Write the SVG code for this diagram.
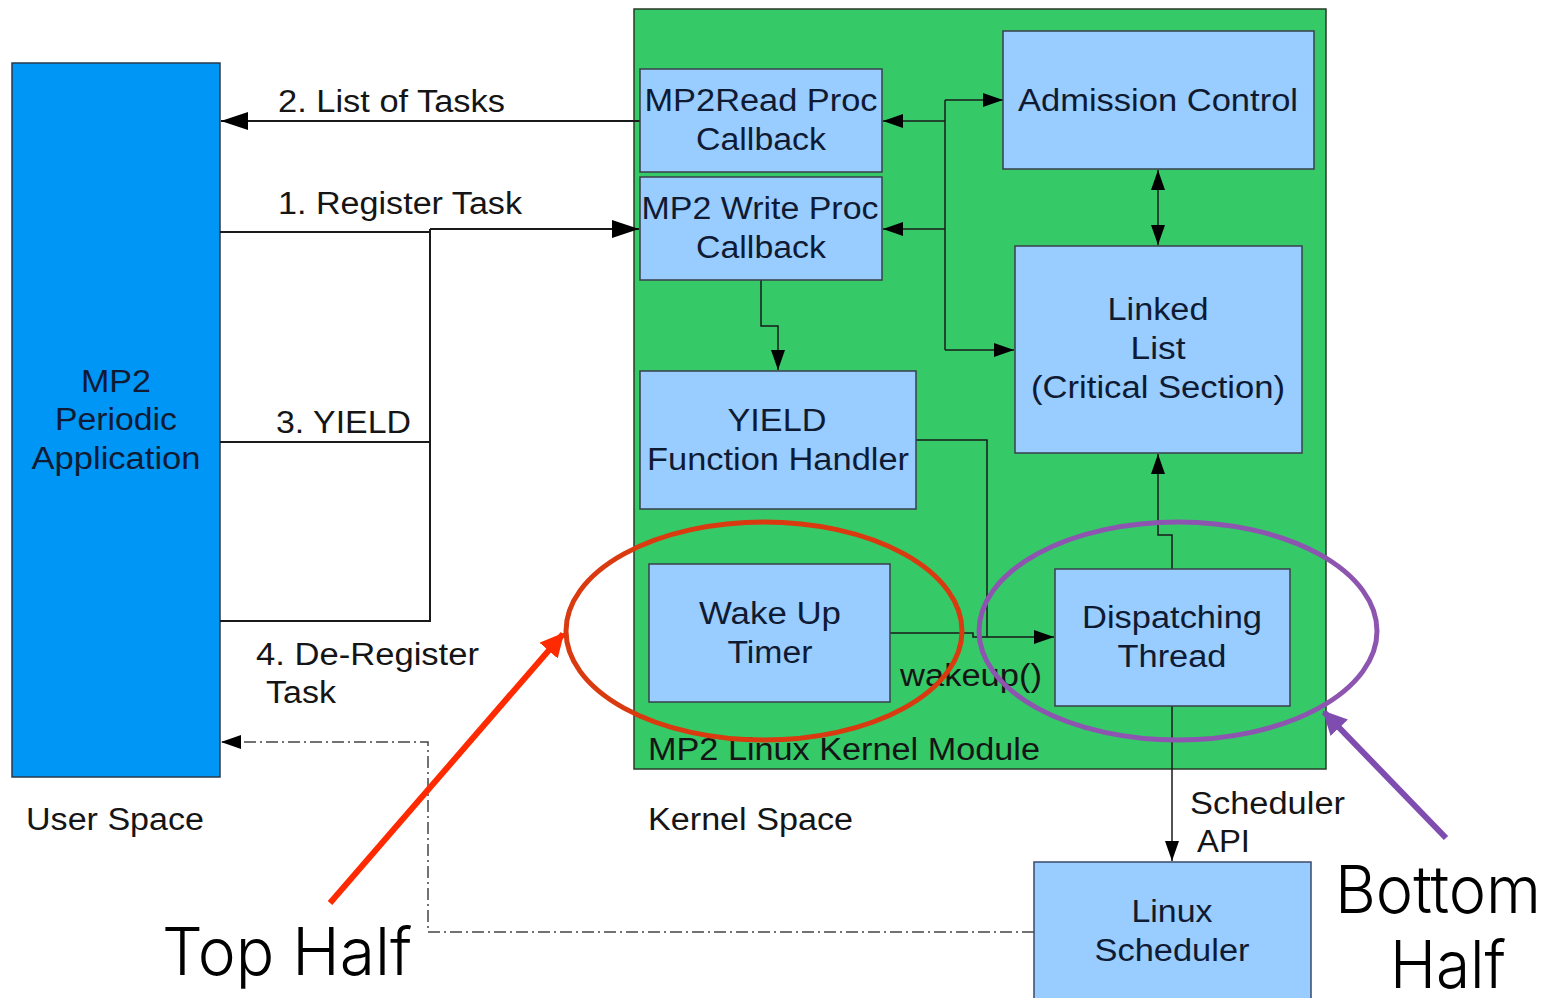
<svg xmlns="http://www.w3.org/2000/svg" width="1555" height="998" viewBox="0 0 1555 998">
<defs>
<style>
.box{fill:#99ccff;stroke:#3a3f4a;stroke-width:1.5}
.t{font-family:"Liberation Sans",Arial,sans-serif;font-size:31px;fill:#0f1a33;text-anchor:middle}
.lbl{font-family:"Liberation Sans",Arial,sans-serif;font-size:31px;fill:#151515}
.big{font-family:"Inter","Lato","Liberation Sans",sans-serif;font-weight:300;font-size:66px;fill:#000}
.ln{fill:none;stroke:#1a1a1a;stroke-width:2}
.thin{fill:none;stroke:#1a1a1a;stroke-width:1.5}
</style>
<marker id="ah" markerUnits="userSpaceOnUse" markerWidth="30" markerHeight="20" refX="27" refY="9" orient="auto-start-reverse" viewBox="0 0 30 20">
<path d="M0,0 L27,9 L0,18 z" fill="#000"/>
</marker>
<marker id="ahs" markerUnits="userSpaceOnUse" markerWidth="22" markerHeight="16" refX="20" refY="7" orient="auto-start-reverse" viewBox="0 0 22 16">
<path d="M0,0 L20,7 L0,14 z" fill="#000"/>
</marker>
<marker id="ahRed" markerUnits="userSpaceOnUse" markerWidth="30" markerHeight="30" refX="22" refY="12" orient="auto" viewBox="0 0 30 30">
<path d="M0,0 L24,12 L0,24 z" fill="#ff2a00"/>
</marker>
<marker id="ahPur" markerUnits="userSpaceOnUse" markerWidth="30" markerHeight="30" refX="22" refY="12" orient="auto" viewBox="0 0 30 30">
<path d="M0,0 L24,12 L0,24 z" fill="#7f4cb0"/>
</marker>
</defs>
<rect x="0" y="0" width="1555" height="998" fill="#ffffff"/>

<g id="kernel-module">
<rect x="634" y="9" width="692" height="760" fill="#36c968" stroke="#2a3a2a" stroke-width="1.5"/>
<text class="lbl" x="648" y="760" textLength="392" lengthAdjust="spacingAndGlyphs">MP2 Linux Kernel Module</text>
</g>

<g id="app">
<rect x="12" y="63" width="208" height="714" fill="#0096f5" stroke="#2a3a4a" stroke-width="1.5"/>
<text class="t" x="116" y="392" textLength="70" lengthAdjust="spacingAndGlyphs">MP2</text>
<text class="t" x="116" y="430" textLength="122" lengthAdjust="spacingAndGlyphs">Periodic</text>
<text class="t" x="116" y="469" textLength="169" lengthAdjust="spacingAndGlyphs">Application</text>
</g>

<g id="connectors">
<path class="ln" d="M640,121 H221" marker-end="url(#ah)"/>
<path class="ln" d="M220,232 H430"/>
<path class="ln" d="M430,229 H639" marker-end="url(#ah)"/>
<path class="ln" d="M430,229 V621 H220"/>
<path class="ln" d="M220,442 H430"/>
<path class="thin" d="M945,100 V350"/>
<path class="thin" d="M945,100 H1003" marker-end="url(#ahs)"/>
<path class="thin" d="M945,121 H883" marker-end="url(#ahs)"/>
<path class="thin" d="M945,229 H883" marker-end="url(#ahs)"/>
<path class="thin" d="M945,350 H1014" marker-end="url(#ahs)"/>
<path class="thin" d="M1158,170 V245" marker-start="url(#ahs)" marker-end="url(#ahs)"/>
<path class="thin" d="M761,280 V326 H778 V370" marker-end="url(#ahs)"/>
<path class="thin" d="M916,440 H987 V637"/>
<path class="thin" d="M890,633 H973 V637 H1054" marker-end="url(#ahs)"/>
<path class="thin" d="M1172,569 V535 H1158 V454" marker-end="url(#ahs)"/>
<path class="thin" d="M1172,706 V861" marker-end="url(#ahs)"/>
<path fill="none" stroke="#444" stroke-width="1.5" stroke-dasharray="12,4,2,4" d="M1034,932 H428 V742 H221" marker-end="url(#ahs)"/>
</g>

<g id="read-proc">
<rect class="box" x="640" y="69" width="242" height="103"/>
<text class="t" x="761" y="111" textLength="233" lengthAdjust="spacingAndGlyphs">MP2Read Proc</text>
<text class="t" x="761" y="150" textLength="130" lengthAdjust="spacingAndGlyphs">Callback</text>
</g>
<g id="write-proc">
<rect class="box" x="640" y="177" width="242" height="103"/>
<text class="t" x="760" y="219" textLength="237" lengthAdjust="spacingAndGlyphs">MP2 Write Proc</text>
<text class="t" x="761" y="258" textLength="130" lengthAdjust="spacingAndGlyphs">Callback</text>
</g>
<g id="admission">
<rect class="box" x="1003" y="31" width="311" height="138"/>
<text class="t" x="1158" y="111" textLength="280" lengthAdjust="spacingAndGlyphs">Admission Control</text>
</g>
<g id="linked-list">
<rect class="box" x="1015" y="246" width="287" height="207"/>
<text class="t" x="1158" y="320" textLength="101" lengthAdjust="spacingAndGlyphs">Linked</text>
<text class="t" x="1158" y="359" textLength="55" lengthAdjust="spacingAndGlyphs">List</text>
<text class="t" x="1158" y="398" textLength="254" lengthAdjust="spacingAndGlyphs">(Critical Section)</text>
</g>
<g id="yield-handler">
<rect class="box" x="640" y="371" width="276" height="138"/>
<text class="t" x="777" y="431" textLength="99" lengthAdjust="spacingAndGlyphs">YIELD</text>
<text class="t" x="778" y="470" textLength="262" lengthAdjust="spacingAndGlyphs">Function Handler</text>
</g>
<g id="wake-timer">
<rect class="box" x="649" y="564" width="241" height="138"/>
<text class="t" x="770" y="624" textLength="142" lengthAdjust="spacingAndGlyphs">Wake Up</text>
<text class="t" x="770" y="663" textLength="85" lengthAdjust="spacingAndGlyphs">Timer</text>
</g>
<g id="dispatch">
<rect class="box" x="1055" y="569" width="235" height="137"/>
<text class="t" x="1172" y="628" textLength="180" lengthAdjust="spacingAndGlyphs">Dispatching</text>
<text class="t" x="1172" y="667" textLength="109" lengthAdjust="spacingAndGlyphs">Thread</text>
</g>
<g id="linux-scheduler">
<rect x="1034" y="862" width="277" height="145" fill="#99ccff" stroke="#3a4a6a" stroke-width="1.5"/>
<text class="t" x="1172" y="922" textLength="81" lengthAdjust="spacingAndGlyphs">Linux</text>
<text class="t" x="1172" y="961" textLength="155" lengthAdjust="spacingAndGlyphs">Scheduler</text>
</g>

<g id="labels">
<text class="lbl" x="278" y="112" textLength="227" lengthAdjust="spacingAndGlyphs">2. List of Tasks</text>
<text class="lbl" x="278" y="214" textLength="244" lengthAdjust="spacingAndGlyphs">1. Register Task</text>
<text class="lbl" x="276" y="433" textLength="135" lengthAdjust="spacingAndGlyphs">3. YIELD</text>
<text class="lbl" x="256" y="665" textLength="223" lengthAdjust="spacingAndGlyphs">4. De-Register</text>
<text class="lbl" x="266" y="703" textLength="70" lengthAdjust="spacingAndGlyphs">Task</text>
<text class="lbl" x="900" y="686" textLength="142" lengthAdjust="spacingAndGlyphs">wakeup()</text>
<text class="lbl" x="1190" y="814" textLength="155" lengthAdjust="spacingAndGlyphs">Scheduler</text>
<text class="lbl" x="1197" y="852" textLength="53" lengthAdjust="spacingAndGlyphs">API</text>
<text class="lbl" x="26" y="830" textLength="178" lengthAdjust="spacingAndGlyphs">User Space</text>
<text class="lbl" x="648" y="830" textLength="205" lengthAdjust="spacingAndGlyphs">Kernel Space</text>
</g>

<g id="top-half">
<ellipse cx="764" cy="631" rx="198" ry="109" fill="none" stroke="#d93a10" stroke-width="5"/>
<line x1="330" y1="903" x2="563" y2="634" stroke="#ff2a00" stroke-width="6" marker-end="url(#ahRed)"/>
<text class="big" x="162" y="975" textLength="250" lengthAdjust="spacingAndGlyphs">Top Half</text>
</g>
<g id="bottom-half">
<ellipse cx="1178" cy="631" rx="199" ry="109" fill="none" stroke="#8e55b0" stroke-width="5"/>
<line x1="1446" y1="838" x2="1324" y2="712" stroke="#7f4cb0" stroke-width="6" marker-end="url(#ahPur)"/>
<text class="big" x="1335" y="913" textLength="206" lengthAdjust="spacingAndGlyphs">Bottom</text>
<text class="big" x="1390" y="988" textLength="116" lengthAdjust="spacingAndGlyphs">Half</text>
</g>
</svg>
